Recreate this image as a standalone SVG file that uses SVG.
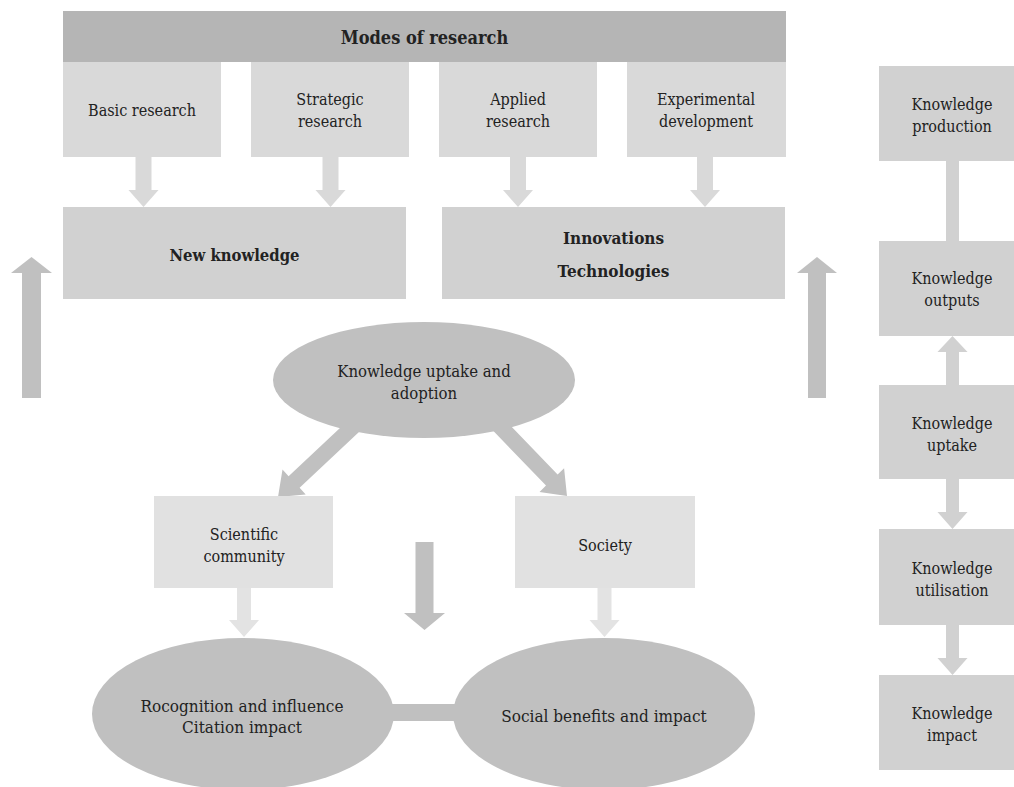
<svg xmlns="http://www.w3.org/2000/svg" width="1014" height="787" viewBox="0 0 1014 787">
<style>
text{font-family:"DejaVu Serif Condensed","DejaVu Serif","Liberation Serif",serif;font-stretch:condensed;font-size:16px;fill:#222;text-anchor:middle}
.b{font-weight:bold;font-size:17px}
.big{font-size:17px}
.hdr{fill:#b5b5b5}
.top{fill:#d9d9d9}
.mid{fill:#d1d1d1}
.lt{fill:#e1e1e1}
.dk{fill:#c0c0c0}
.ltar{fill:#e3e3e3}
</style>
<rect width="1014" height="787" fill="#fff"/>
<g id="connectors">
<polygon class="top" points="135.5,157 151.5,157 151.5,190 158.5,190 143.5,207 128.5,190 135.5,190"/>
<polygon class="top" points="322.5,157 338.5,157 338.5,190 345.5,190 330.5,207 315.5,190 322.5,190"/>
<polygon class="top" points="510,157 526,157 526,190 533,190 518,207 503,190 510,190"/>
<polygon class="top" points="697,157 713,157 713,190 720,190 705,207 690,190 697,190"/>
<polygon class="dk" points="22,398 41,398 41,273 52,273 31.5,257 11,273 22,273"/>
<polygon class="dk" points="808,398 826,398 826,273 837,273 817,257 797,273 808,273"/>
<polygon class="dk" points="363.5,427.8 299.6,487.8 305.7,494.4 278,497 282.5,469.6 288.6,476.2 352.5,416.2"/>
<polygon class="dk" points="486.2,423.5 546,485.6 539.5,491.9 567,496 564.1,468.3 557.6,474.6 497.8,412.5"/>
<polygon class="dk" points="415.5,542 433.5,542 433.5,613 445,613 424.5,630 404,613 415.5,613"/>
<polygon class="ltar" points="237,588 251,588 251,620 259,620 244,637 229,620 237,620"/>
<polygon class="ltar" points="597.5,588 611.5,588 611.5,620 619.5,620 604.5,637 589.5,620 597.5,620"/>
<rect class="dk" x="390" y="704" width="68" height="17"/>
<rect class="mid" x="946" y="161" width="13" height="80"/>
<polygon class="mid" points="946,385 959,385 959,352 967.5,352 952.5,336 937.5,352 946,352"/>
<polygon class="mid" points="946,479 959,479 959,512 967.5,512 952.5,529 937.5,512 946,512"/>
<polygon class="mid" points="946,625 959,625 959,658 967.5,658 952.5,675 937.5,658 946,658"/>
</g>
<g id="modes">
<rect class="hdr" x="63" y="11" width="723" height="51"/>
<text class="b" x="424.5" y="44" style="font-size:18px">Modes of research</text>
</g>
<g id="basic">
<rect class="top" x="63" y="62" width="158" height="95"/>
<text x="142" y="116">Basic research</text>
</g>
<g id="strategic">
<rect class="top" x="251" y="62" width="158" height="95"/>
<text x="330" y="105">Strategic</text>
<text x="330" y="127">research</text>
</g>
<g id="applied">
<rect class="top" x="439" y="62" width="158" height="95"/>
<text x="518" y="105">Applied</text>
<text x="518" y="127">research</text>
</g>
<g id="experimental">
<rect class="top" x="627" y="62" width="159" height="95"/>
<text x="706" y="105">Experimental</text>
<text x="706" y="127">development</text>
</g>
<g id="newknowledge">
<rect class="mid" x="63" y="207" width="343" height="92"/>
<text class="b" x="234.5" y="261" style="font-size:16.5px">New knowledge</text>
</g>
<g id="innovations">
<rect class="mid" x="442" y="207" width="343" height="92"/>
<text class="b" x="613.5" y="244">Innovations</text>
<text class="b" x="613.5" y="277">Technologies</text>
</g>
<g id="uptake-adoption">
<ellipse class="dk" cx="424" cy="380" rx="151" ry="58"/>
<text x="424" y="377" style="font-size:16.6px">Knowledge uptake and</text>
<text x="424" y="399" style="font-size:16.6px">adoption</text>
</g>
<g id="scientific">
<rect class="lt" x="154" y="496" width="179" height="92"/>
<text x="244" y="540">Scientific</text>
<text x="244" y="562">community</text>
</g>
<g id="society">
<rect class="lt" x="515" y="496" width="180" height="92"/>
<text x="605" y="551">Society</text>
</g>
<g id="recognition">
<ellipse class="dk" cx="243" cy="714" rx="151" ry="76"/>
<text class="big" x="242" y="712">Rocognition and influence</text>
<text class="big" x="242" y="733">Citation impact</text>
</g>
<g id="social">
<ellipse class="dk" cx="604" cy="714" rx="151" ry="76"/>
<text class="big" x="604" y="722">Social benefits and impact</text>
</g>
<g id="k-production">
<rect class="mid" x="879" y="66" width="147" height="95"/>
<text x="952" y="110">Knowledge</text>
<text x="952" y="132">production</text>
</g>
<g id="k-outputs">
<rect class="mid" x="879" y="241" width="147" height="95"/>
<text x="952" y="284">Knowledge</text>
<text x="952" y="306">outputs</text>
</g>
<g id="k-uptake">
<rect class="mid" x="879" y="385" width="147" height="94"/>
<text x="952" y="429">Knowledge</text>
<text x="952" y="451">uptake</text>
</g>
<g id="k-utilisation">
<rect class="mid" x="879" y="529" width="147" height="96"/>
<text x="952" y="574">Knowledge</text>
<text x="952" y="596">utilisation</text>
</g>
<g id="k-impact">
<rect class="mid" x="879" y="675" width="147" height="95"/>
<text x="952" y="719">Knowledge</text>
<text x="952" y="741">impact</text>
</g>
</svg>
